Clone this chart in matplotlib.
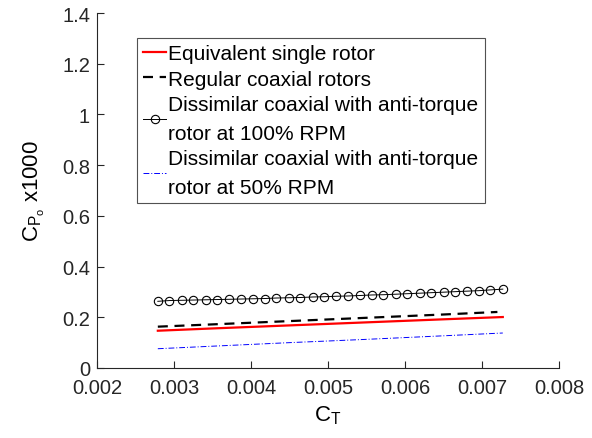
import numpy as np
import matplotlib
matplotlib.use("Agg")
import matplotlib.pyplot as plt
from matplotlib.ticker import FormatStrFormatter

plt.rcParams['font.family'] = ['Liberation Sans', 'DejaVu Sans']
plt.rcParams['mathtext.fontset'] = 'custom'
plt.rcParams['mathtext.rm'] = 'Liberation Sans'
plt.rcParams['mathtext.it'] = 'Liberation Sans'

# thrust coefficient grid for the anti-torque 100% case (circles)
ct_pts = [0.00279, 0.00294, 0.00310, 0.00325, 0.00341, 0.00356, 0.00372, 0.00387,
          0.00403, 0.00418, 0.00433, 0.00449, 0.00464, 0.00480, 0.00495, 0.00511,
          0.00526, 0.00542, 0.00557, 0.00572, 0.00588, 0.00603, 0.00619, 0.00634,
          0.00650, 0.00665, 0.00680, 0.00696, 0.00711, 0.00727]
cp_dissim100 = [0.263, 0.266, 0.267, 0.268, 0.269, 0.270, 0.271, 0.272, 0.273, 0.274,
                0.276, 0.277, 0.278, 0.280, 0.281, 0.283, 0.284, 0.286, 0.288, 0.289,
                0.291, 0.293, 0.295, 0.297, 0.299, 0.301, 0.303, 0.305, 0.308, 0.311]

# smooth curves
ct_line = [0.00279, 0.0035, 0.0045, 0.0055, 0.0065, 0.00727]
cp_single = [0.147, 0.156, 0.168, 0.180, 0.192, 0.201]
ct_coax = [0.00279, 0.0035, 0.0045, 0.0055, 0.0065, 0.00720]
cp_coax = [0.163, 0.172, 0.185, 0.198, 0.211, 0.221]
cp_dissim50 = [0.076, 0.086, 0.100, 0.113, 0.127, 0.138]

labels = ['Equivalent single rotor',
          'Regular coaxial rotors',
          'Dissimilar coaxial with anti-torque\nrotor at 100% RPM',
          'Dissimilar coaxial with anti-torque\nrotor at 50% RPM']

txt = '#262626'

fig = plt.figure(figsize=(5.92, 4.39), dpi=100)
ax = fig.add_axes([97/592, 70/439, 462/592, 355/439])

ax.plot(ct_line, cp_single, color='red', lw=1.6, label=labels[0])
ax.plot(ct_coax, cp_coax, color='black', lw=1.6, ls=(0, (4.5, 3)), label=labels[1])
ax.plot(ct_pts, cp_dissim100, color='black', lw=0.7, marker='o', ms=6,
        mfc='none', mew=0.8, label=labels[2])
ax.plot(ct_line, cp_dissim50, color='blue', lw=0.7, ls=(0, (6, 2, 1, 2)), label=labels[3])

ax.set_xlim(0.002, 0.008)
ax.set_ylim(0, 1.4)
ax.set_xticks([0.002, 0.003, 0.004, 0.005, 0.006, 0.007, 0.008])
ax.set_yticks([0, 0.2, 0.4, 0.6, 0.8, 1.0, 1.2, 1.4])
ax.xaxis.set_major_formatter(FormatStrFormatter('%g'))
ax.yaxis.set_major_formatter(FormatStrFormatter('%g'))

for s in ['top', 'right']:
    ax.spines[s].set_visible(False)
for s in ['left', 'bottom']:
    ax.spines[s].set_color(txt)
    ax.spines[s].set_linewidth(0.8)
ax.tick_params(direction='in', length=5, width=0.8, colors=txt, labelsize=14.5)
ax.tick_params(axis='x', pad=7)
ax.tick_params(axis='y', pad=5)

ax.set_xlabel(r'$\mathregular{C_T}$', fontsize=16, color='black', labelpad=5)
ax.set_ylabel(r'$\mathregular{C_{P_o}}$ x1000', fontsize=16, color='black', labelpad=11)

leg = ax.legend(loc='upper left', bbox_to_anchor=(0.087, 0.93), fontsize=15,
                frameon=True, fancybox=False, handlelength=1.1, handletextpad=0.1,
                borderpad=0.3, labelspacing=0.32, borderaxespad=0)
for t in leg.get_texts():
    t.set_linespacing(1.62)
leg.get_frame().set_edgecolor(txt)
leg.get_frame().set_linewidth(0.8)

fig.savefig('out.png', dpi=100)
